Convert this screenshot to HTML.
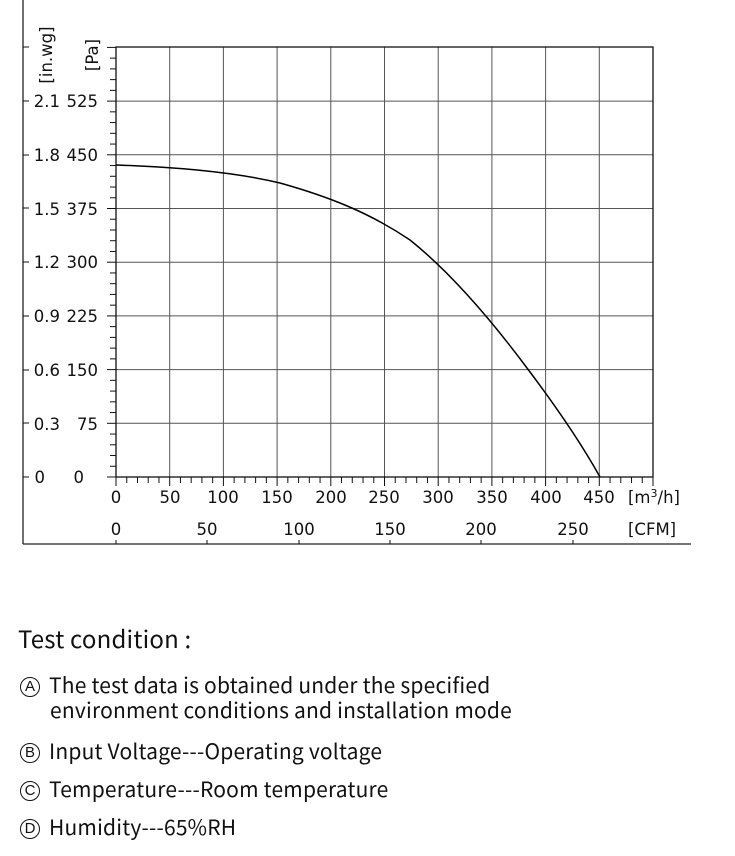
<!DOCTYPE html>
<html><head><meta charset="utf-8"><style>
body{margin:0;background:#fff;width:735px;height:856px;overflow:hidden;position:relative}
svg{position:absolute;left:0;top:0}
svg text{font-family:"DejaVu Sans","Liberation Sans",sans-serif;font-size:16.5px}
.t{position:absolute;font-family:"Noto Sans CJK SC","Liberation Sans",sans-serif;color:#111;white-space:nowrap}
.c{display:inline-block;box-sizing:border-box;width:20px;height:20px;border:1.4px solid #111;border-radius:50%;font-size:15px;line-height:18px;text-align:center;margin-right:9px;vertical-align:2px;font-family:"Liberation Sans",sans-serif;letter-spacing:0}
</style></head><body>
<svg width="735" height="600" xmlns="http://www.w3.org/2000/svg" fill="#111">
<g stroke="#555" stroke-width="1">
<line x1="169.7" y1="47" x2="169.7" y2="477"/><line x1="223.4" y1="47" x2="223.4" y2="477"/><line x1="277.1" y1="47" x2="277.1" y2="477"/><line x1="330.8" y1="47" x2="330.8" y2="477"/><line x1="384.5" y1="47" x2="384.5" y2="477"/><line x1="438.2" y1="47" x2="438.2" y2="477"/><line x1="491.9" y1="47" x2="491.9" y2="477"/><line x1="545.6" y1="47" x2="545.6" y2="477"/><line x1="599.3" y1="47" x2="599.3" y2="477"/>
<line x1="116" y1="423.3" x2="653" y2="423.3"/><line x1="116" y1="369.6" x2="653" y2="369.6"/><line x1="116" y1="315.9" x2="653" y2="315.9"/><line x1="116" y1="262.2" x2="653" y2="262.2"/><line x1="116" y1="208.5" x2="653" y2="208.5"/><line x1="116" y1="154.8" x2="653" y2="154.8"/><line x1="116" y1="101.1" x2="653" y2="101.1"/>
</g>
<rect x="116" y="47" width="537" height="430" fill="none" stroke="#111" stroke-width="1.3"/>
<g id="ticks" stroke="#111" stroke-width="1"></g>
<line x1="23" y1="0" x2="23" y2="544" stroke="#222" stroke-width="1.3"/>
<line x1="23" y1="544" x2="691" y2="544" stroke="#222" stroke-width="1.3"/>
<path d="M116,165 C170,167 230,171 280,183 C330,197 370,213 410,240 C450,272 490,318 530,372 C560,412 585,450 600,477" fill="none" stroke="#000" stroke-width="1.5"/>
<g text-anchor="middle" transform="rotate(-90)">
<text x="-55" y="52">[in.wg]</text><text x="-55" y="98">[Pa]</text>
</g>
<g text-anchor="end">
<text x="60" y="107">2.1</text><text x="98" y="107">525</text>
<text x="60" y="161">1.8</text><text x="98" y="161">450</text>
<text x="60" y="215">1.5</text><text x="98" y="215">375</text>
<text x="60" y="268">1.2</text><text x="98" y="268">300</text>
<text x="60" y="322">0.9</text><text x="98" y="322">225</text>
<text x="60" y="376">0.6</text><text x="98" y="376">150</text>
<text x="60" y="430">0.3</text><text x="98" y="430">75</text>
<text x="45" y="483">0</text><text x="84" y="483">0</text>
</g>
<g text-anchor="middle">
<text x="116" y="503">0</text><text x="170" y="503">50</text><text x="223" y="503">100</text><text x="277" y="503">150</text><text x="331" y="503">200</text><text x="384" y="503">250</text><text x="438" y="503">300</text><text x="492" y="503">350</text><text x="546" y="503">400</text><text x="599" y="503">450</text>
<text x="116" y="535">0</text><text x="207" y="535">50</text><text x="299" y="535">100</text><text x="390" y="535">150</text><text x="481" y="535">200</text><text x="573" y="535">250</text>
</g>
<text x="628" y="503">[m<tspan dy="-6" style="font-size:11px">3</tspan><tspan dy="6">/h]</tspan></text>
<text x="628" y="535">[CFM]</text>
<g stroke="#111"><line x1="116" y1="540" x2="116" y2="544"/><line x1="207" y1="540" x2="207" y2="544"/><line x1="299" y1="540" x2="299" y2="544"/><line x1="390" y1="540" x2="390" y2="544"/><line x1="481" y1="540" x2="481" y2="544"/><line x1="573" y1="540" x2="573" y2="544"/>
<line x1="23" y1="47" x2="29" y2="47"/><line x1="23" y1="101" x2="29" y2="101"/><line x1="23" y1="155" x2="29" y2="155"/><line x1="23" y1="208" x2="29" y2="208"/><line x1="23" y1="262" x2="29" y2="262"/><line x1="23" y1="316" x2="29" y2="316"/><line x1="23" y1="370" x2="29" y2="370"/><line x1="23" y1="423" x2="29" y2="423"/><line x1="23" y1="477" x2="29" y2="477"/></g>
</svg>
<script>
var g=document.getElementById('ticks'),s='';
for(var i=0;i<=50;i++){var x=116+i*10.74,l=(i%5==0)?9:6;s+='<line x1="'+x+'" y1="477" x2="'+x+'" y2="'+(477+l)+'"/>';}
for(var j=0;j<=40;j++){var y=477-j*10.74,l=(j%5==0)?9:6;s+='<line x1="'+(116-l)+'" y1="'+y+'" x2="116" y2="'+y+'"/>';}
g.innerHTML=s;
</script>
<div class="t" style="left:18px;top:620px;font-size:24px;letter-spacing:0.2px">Test condition :</div>
<div class="t" style="left:20px;top:673px;font-size:21px;line-height:25px;letter-spacing:0.2px"><span class="c">A</span>The test data is obtained under the specified<br><span style="padding-left:30px">environment conditions and installation mode</span></div>
<div class="t" style="left:20px;top:736px;font-size:21px;letter-spacing:0.2px"><span class="c">B</span>Input Voltage---Operating voltage</div>
<div class="t" style="left:20px;top:774px;font-size:21px;letter-spacing:0.2px"><span class="c">C</span>Temperature---Room temperature</div>
<div class="t" style="left:20px;top:812px;font-size:21px;letter-spacing:0.2px"><span class="c">D</span>Humidity---65%RH</div>
</body></html>
